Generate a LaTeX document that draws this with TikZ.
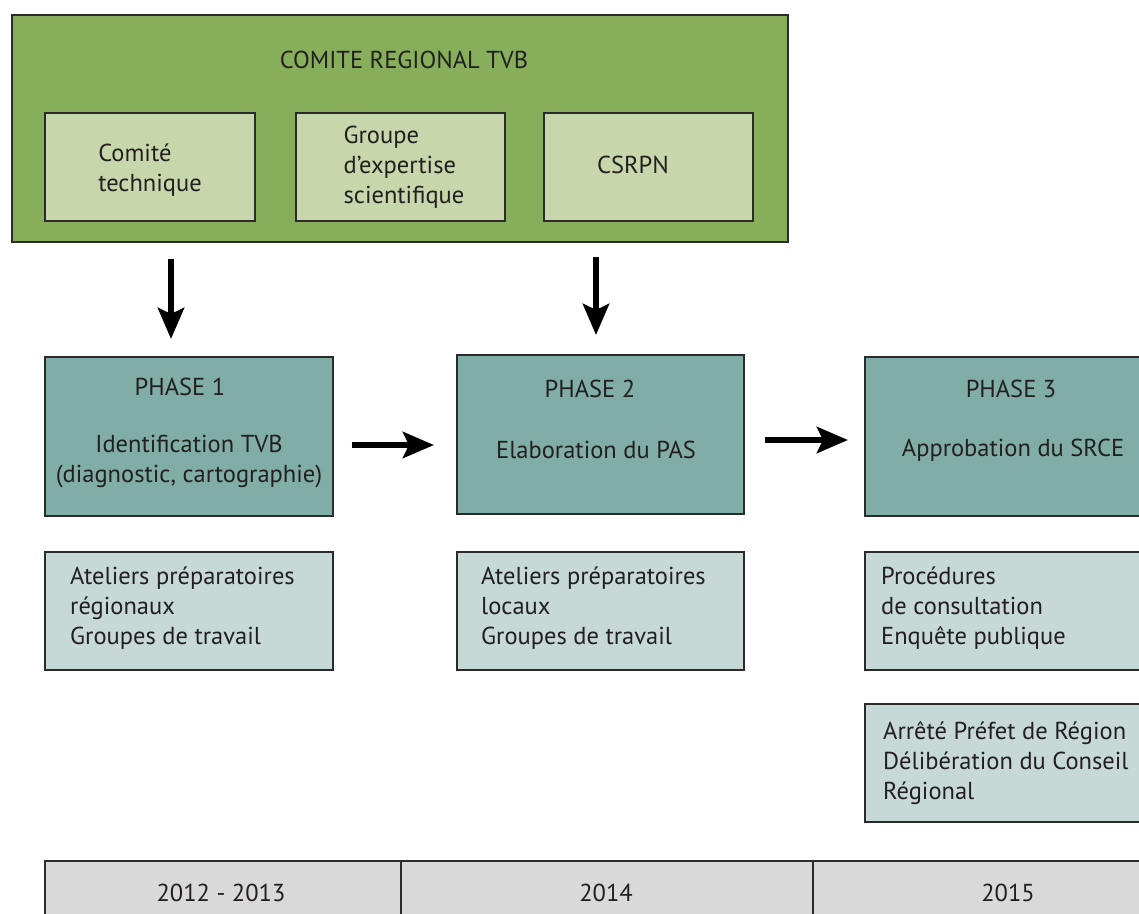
\documentclass[tikz,border=0pt]{standalone}
\usepackage{fontspec}
\setmainfont{PT Sans}
\usetikzlibrary{arrows.meta}
\definecolor{cgreen}{HTML}{87AE5A}
\definecolor{clgreen}{HTML}{C7D7AB}
\definecolor{cteal}{HTML}{80AEA7}
\definecolor{clteal}{HTML}{C6D9D6}
\definecolor{cgray}{HTML}{D9D9D9}
\definecolor{cline}{HTML}{2B2B2B}
\definecolor{ctext}{HTML}{231F20}
\tikzset{
  box/.style={draw=cline, line width=1.5pt, anchor=north west, inner sep=0pt, text=ctext},
  txt/.style={text=ctext, font=\fontsize{24.5}{30}\selectfont, inner sep=0pt, align=left},
  ctxt/.style={text=ctext, font=\fontsize{24.5}{30}\selectfont, inner sep=0pt, align=center},
  bigarrow/.style={line width=6.5pt, -{Stealth[length=31pt,width=26pt,inset=6pt]}, black}
}
\begin{document}
\begin{tikzpicture}[x=1pt,y=-1pt]
\useasboundingbox (0,0) rectangle (1139,913);
\clip (0,0) rectangle (1139,913);
\fill[white] (0,0) rectangle (1139,913);
% top committee
\node[box, fill=cgreen, minimum width=776pt, minimum height=227pt] (comite) at (11,14) {};
\node[ctxt] (comitet) at (404,60) {COMITE REGIONAL TVB};
\node[box, fill=clgreen, minimum width=210pt, minimum height=108pt] (ct) at (44,112) {};
\node[txt] (ctt) at (150,170) {Comité\\technique};
\node[box, fill=clgreen, minimum width=209pt, minimum height=108pt] (ge) at (295,112) {};
\node[txt] (get) at (404,167) {Groupe\\d’expertise\\scientifique};
\node[box, fill=clgreen, minimum width=209pt, minimum height=108pt] (cs) at (543,112) {};
\node[ctxt] (cst) at (633,165) {CSRPN};
% phases
\node[box, fill=cteal, minimum width=288pt, minimum height=159pt] (p1) at (44,356) {};
\node[ctxt] (p1a) at (180,387) {PHASE 1};
\node[ctxt] (p1b) at (189,462) {Identification TVB\\(diagnostic, cartographie)};
\node[box, fill=cteal, minimum width=287pt, minimum height=159pt] (p2) at (456,354) {};
\node[ctxt] (p2a) at (590,389) {PHASE 2};
\node[ctxt] (p2b) at (596,450) {Elaboration du PAS};
\node[box, fill=cteal, minimum width=290pt, minimum height=159pt] (p3) at (864,356) {};
\node[ctxt] (p3a) at (1011,389) {PHASE 3};
\node[ctxt] (p3b) at (1013,450) {Approbation du SRCE};
% sub boxes
\node[box, fill=clteal, minimum width=288pt, minimum height=118pt] (s1) at (44,551) {};
\node[txt, anchor=west] (s1t) at (70,608) {Ateliers préparatoires\\régionaux\\Groupes de travail};
\node[box, fill=clteal, minimum width=287pt, minimum height=118pt] (s2) at (456,551) {};
\node[txt, anchor=west] (s2t) at (481,608) {Ateliers préparatoires\\locaux\\Groupes de travail};
\node[box, fill=clteal, minimum width=290pt, minimum height=118pt] (s3) at (864,551) {};
\node[txt, anchor=west] (s3t) at (881,608) {Procédures\\de consultation\\Enquête publique};
\node[box, fill=clteal, minimum width=290pt, minimum height=118pt] (s4) at (864,703) {};
\node[txt, anchor=west] (s4t) at (883,763) {Arrêté Préfet de Région\\Délibération du Conseil\\Régional};
% timeline
\node[box, fill=cgray, minimum width=356pt, minimum height=70pt] (t1) at (44,860) {};
\node[box, fill=cgray, minimum width=412pt, minimum height=70pt] (t2) at (400,860) {};
\node[box, fill=cgray, minimum width=340pt, minimum height=70pt] (t3) at (812,860) {};
\node[ctxt] (t1t) at (221,893) {2012 - 2013};
\node[ctxt] (t2t) at (606,893) {2014};
\node[ctxt] (t3t) at (1008,893) {2015};
% arrows
\coordinate (a1) at (171,0);
\coordinate (a2) at (596,0);
\coordinate (h1) at (0,445);
\coordinate (h2) at (0,440);
\draw[bigarrow, shorten <=16pt, shorten >=17pt] (comite.south -| a1) -- (p1.north -| a1);
\draw[bigarrow, shorten <=14pt, shorten >=19pt] (comite.south -| a2) -- (p2.north -| a2);
\draw[bigarrow, shorten <=18pt, shorten >=22pt] (p1.east |- h1) -- (p2.west |- h1);
\draw[bigarrow, shorten <=20pt, shorten >=16pt] (p2.east |- h2) -- (p3.west |- h2);
\end{tikzpicture}
\end{document}
